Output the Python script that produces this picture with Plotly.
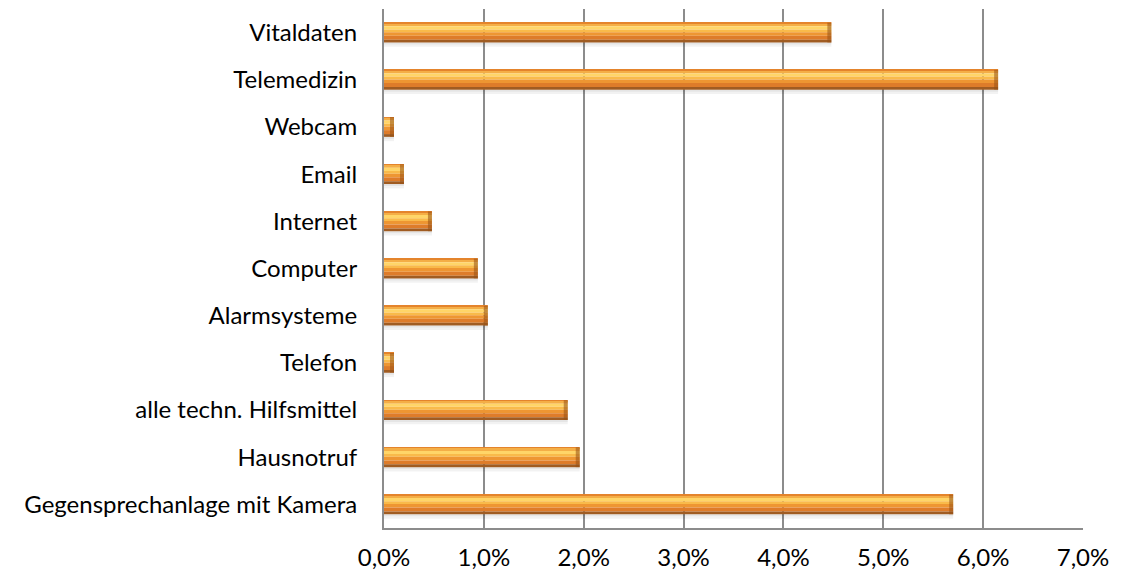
import plotly.graph_objects as go

# Kategorien (von oben nach unten) und Anteile
kategorien = [
    "Vitaldaten",
    "Telemedizin",
    "Webcam",
    "Email",
    "Internet",
    "Computer",
    "Alarmsysteme",
    "Telefon",
    "alle techn. Hilfsmittel",
    "Hausnotruf",
    "Gegensprechanlage mit Kamera",
]
anteile = [0.0448, 0.0615, 0.001, 0.002, 0.0048, 0.0094, 0.0104, 0.001, 0.0184, 0.0196, 0.0570]

x_ticks = [0, 0.01, 0.02, 0.03, 0.04, 0.05, 0.06, 0.07]

BAR = 0.42  # Balkendicke in Kategorie-Einheiten

# Farbstreifen quer zum Balken (oben -> unten) fuer den plastischen Look
streifen = [
    (0.00, 0.08, "#E4842C"),
    (0.08, 0.18, "#F4AE46"),
    (0.18, 0.34, "#FFD568"),
    (0.34, 0.48, "#F9BA4A"),
    (0.48, 0.66, "#EE9632"),
    (0.66, 0.86, "#DE7C2A"),
    (0.86, 1.00, "#A05C22"),
]

fig = go.Figure()

# weicher Schatten unter den Balken
for f0, f1, col in [(1.00, 1.10, "rgba(0,0,0,0.10)"), (1.10, 1.22, "rgba(0,0,0,0.05)")]:
    fig.add_trace(go.Bar(
        y=kategorien, x=anteile, orientation="h",
        offset=-BAR / 2 + f0 * BAR, width=(f1 - f0) * BAR,
        marker=dict(color=col, line=dict(width=0)),
        hoverinfo="skip", showlegend=False,
    ))

for f0, f1, col in streifen:
    fig.add_trace(go.Bar(
        y=kategorien, x=anteile, orientation="h",
        offset=-BAR / 2 + f0 * BAR, width=(f1 - f0) * BAR,
        marker=dict(color=col, line=dict(width=0)),
        hoverinfo="skip", showlegend=False,
    ))

# dunkle Abschlusskante am rechten Balkenende
kante = 0.0004
fig.add_trace(go.Bar(
    y=kategorien, x=[kante] * len(anteile), base=[a - kante for a in anteile],
    orientation="h", offset=-BAR / 2, width=BAR,
    marker=dict(color="rgba(150,80,20,0.55)", line=dict(width=0)),
    hoverinfo="skip", showlegend=False,
))

fig.update_layout(
    width=1122, height=574,
    margin=dict(l=384, r=39, t=9, b=46),
    barmode="overlay",
    plot_bgcolor="white", paper_bgcolor="white",
    separators=",.",
    font=dict(family="Lato", size=24, color="#000000"),
    xaxis=dict(
        range=[0, 0.07], tickvals=x_ticks, tickformat=".1%",
        showgrid=True, gridcolor="#8C8C8C", gridwidth=2,
        showline=True, linecolor="#8C8C8C", linewidth=2,
        zeroline=False, ticks="", ticklabelstandoff=7,
        tickfont=dict(size=24), automargin=False,
    ),
    yaxis=dict(
        autorange="reversed", showgrid=False,
        showline=True, linecolor="#8C8C8C", linewidth=2,
        ticks="", ticklabelstandoff=20,
        tickfont=dict(size=24), automargin=False,
    ),
)

fig.write_html("out.html")
